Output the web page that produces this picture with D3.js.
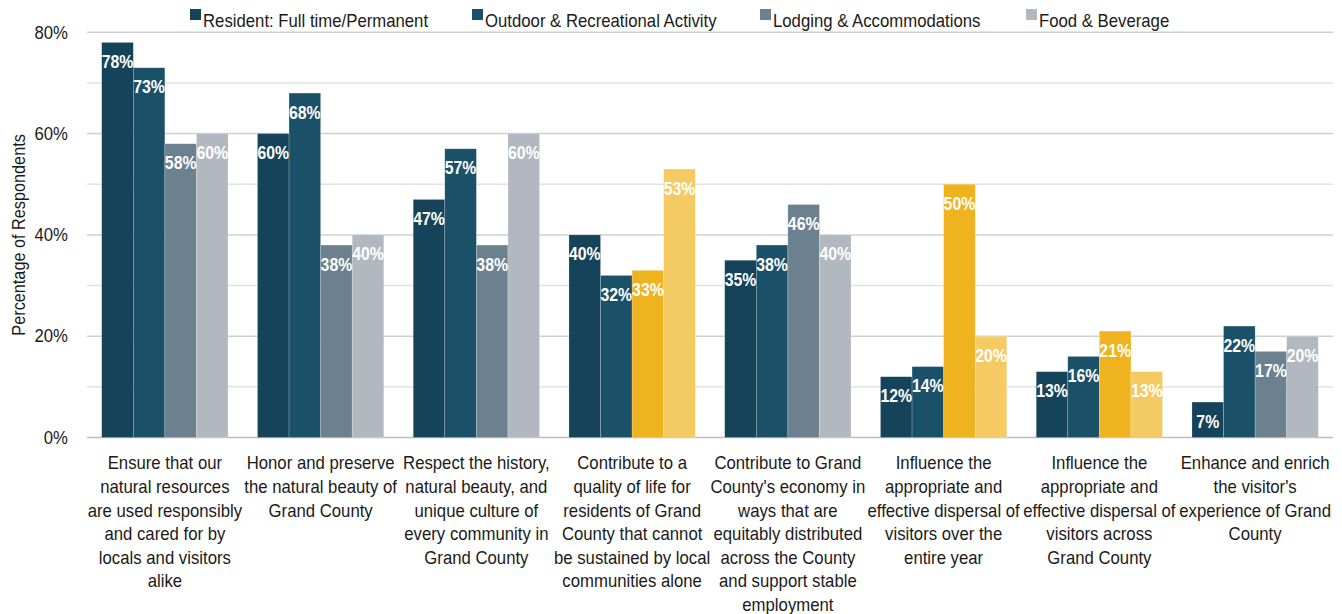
<!DOCTYPE html>
<html>
<head>
<meta charset="utf-8">
<script src="https://cdn.jsdelivr.net/npm/d3@7"></script>
<style>
  html, body { margin: 0; padding: 0; background: #fff; }
  svg { display: block; }
  text { font-family: "Liberation Sans", Arial, sans-serif; }
</style>
</head>
<body>
<svg id="chart" width="1342" height="614"></svg>
<script>
// Survey goals (x-axis categories), pre-wrapped into lines
const categories = [
  ["Ensure that our", "natural resources", "are used responsibly", "and cared for by", "locals and visitors", "alike"],
  ["Honor and preserve", "the natural beauty of", "Grand County"],
  ["Respect the history,", "natural beauty, and", "unique culture of", "every community in", "Grand County"],
  ["Contribute to a", "quality of life for", "residents of Grand", "County that cannot", "be sustained by local", "communities alone"],
  ["Contribute to Grand", "County's economy in", "ways that are", "equitably distributed", "across the County", "and support stable", "employment"],
  ["Influence the", "appropriate and", "effective dispersal of", "visitors over the", "entire year"],
  ["Influence the", "appropriate and", "effective dispersal of", "visitors across", "Grand County"],
  ["Enhance and enrich", "the visitor's", "experience of Grand", "County"]
];

const seriesNames = [
  "Resident: Full time/Permanent",
  "Outdoor & Recreational Activity",
  "Lodging & Accommodations",
  "Food & Beverage"
];

// Percentage of respondents per series, one value per category
const residentValues = [78, 60, 47, 40, 35, 12, 13, 7];
const outdoorValues  = [73, 68, 57, 32, 38, 14, 16, 22];
const lodgingValues  = [58, 38, 38, 33, 46, 50, 21, 17];
const foodValues     = [60, 40, 60, 53, 40, 20, 13, 20];

// Categories where the lodging / food bars are highlighted
const highlightedCategories = [3, 5, 6];

const yTicks = [0, 20, 40, 60, 80];
const yGrid = [10, 20, 30, 40, 50, 60, 70, 80];

const seriesValues = [residentValues, outdoorValues, lodgingValues, foodValues];
const baseColors = ["#15435a", "#1b5168", "#6c8190", "#b1b8bf"];
const highlightColors = ["#15435a", "#1b5168", "#eeb31f", "#f4ca62"];

// Horizontal compression that gives the condensed look of the type
const NARROW = 0.93;
const NARROW_BOLD = 0.88;

const svg = d3.select("#chart");
const plotLeft = 87, plotRight = 1333;

const x0 = d3.scaleBand()
  .domain(d3.range(categories.length))
  .range([plotLeft, plotRight])
  .paddingInner(0.189)
  .paddingOuter(0.0945);

const x1 = d3.scaleBand()
  .domain(d3.range(seriesNames.length))
  .range([0, x0.bandwidth()]);

const y = d3.scaleLinear().domain([0, 80]).range([437.5, 32.3]);

// Gridlines
svg.append("g")
  .selectAll("line")
  .data(yGrid)
  .join("line")
  .attr("x1", plotLeft)
  .attr("x2", plotRight)
  .attr("y1", d => y(d))
  .attr("y2", d => y(d))
  .attr("stroke", d => d % 20 === 0 ? "#cfcfcf" : "#e2e2e2")
  .attr("stroke-width", 1.5);

// Baseline
svg.append("line")
  .attr("x1", plotLeft).attr("x2", plotRight)
  .attr("y1", y(0)).attr("y2", y(0))
  .attr("stroke", "#bdbdbd").attr("stroke-width", 1.5);

// Y axis labels
const yAxis = d3.axisLeft(y).tickValues(yTicks).tickFormat(d => d + "%").tickSize(0).tickPadding(0);
const yg = svg.append("g").attr("transform", `translate(68,0)`).call(yAxis);
yg.select(".domain").remove();
yg.selectAll(".tick text")
  .attr("font-size", 18)
  .attr("fill", "#1a1a1a")
  .attr("transform", `scale(${NARROW},1)`)
  .style("font-family", null);
yg.attr("font-family", null);

// Y axis title
svg.append("text")
  .attr("transform", `translate(25,${(y(0) + y(80)) / 2}) rotate(-90) scale(${NARROW},1)`)
  .attr("text-anchor", "middle")
  .attr("font-size", 17.5)
  .attr("fill", "#1a1a1a")
  .text("Percentage of Respondents");

// Bars
const rows = [];
categories.forEach((c, ci) => {
  seriesValues.forEach((vals, si) => {
    rows.push({ ci, si, v: vals[ci] });
  });
});

const colorFor = d => (highlightedCategories.includes(d.ci) ? highlightColors : baseColors)[d.si];

svg.append("g")
  .selectAll("rect")
  .data(rows)
  .join("rect")
  .attr("x", d => x0(d.ci) + x1(d.si))
  .attr("width", x1.bandwidth())
  .attr("y", d => y(d.v))
  .attr("height", d => y(0) - y(d.v))
  .attr("fill", colorFor)
  .attr("stroke", "rgba(255,255,255,0.35)")
  .attr("stroke-width", 0.6);

// Value labels inside the top of each bar
svg.append("g")
  .selectAll("text")
  .data(rows)
  .join("text")
  .attr("transform", d => `translate(${x0(d.ci) + x1(d.si) + x1.bandwidth() / 2},${y(d.v) + 25.5}) scale(${NARROW_BOLD},1)`)
  .attr("text-anchor", "middle")
  .attr("font-size", 18)
  .attr("font-weight", "bold")
  .attr("fill", "#ffffff")
  .text(d => d.v + "%");

// Category labels
const xg = svg.append("g");
categories.forEach((lines, ci) => {
  const t = xg.append("text")
    .attr("transform", `translate(${x0(ci) + x0.bandwidth() / 2},0) scale(${NARROW},1)`)
    .attr("text-anchor", "middle")
    .attr("font-size", 18)
    .attr("fill", "#1a1a1a");
  lines.forEach((ln, li) => {
    t.append("tspan")
      .attr("x", 0)
      .attr("y", 469.5 + li * 23.6)
      .text(ln);
  });
});

// Legend
const legendX = [190, 472, 760, 1026];
const lg = svg.append("g");
seriesNames.forEach((name, i) => {
  lg.append("rect")
    .attr("x", legendX[i]).attr("y", 9)
    .attr("width", 11).attr("height", 11)
    .attr("fill", baseColors[i]);
  lg.append("text")
    .attr("transform", `translate(${legendX[i] + 13},26.5) scale(${NARROW},1)`)
    .attr("font-size", 18)
    .attr("fill", "#1a1a1a")
    .text(name);
});
</script>
</body>
</html>
